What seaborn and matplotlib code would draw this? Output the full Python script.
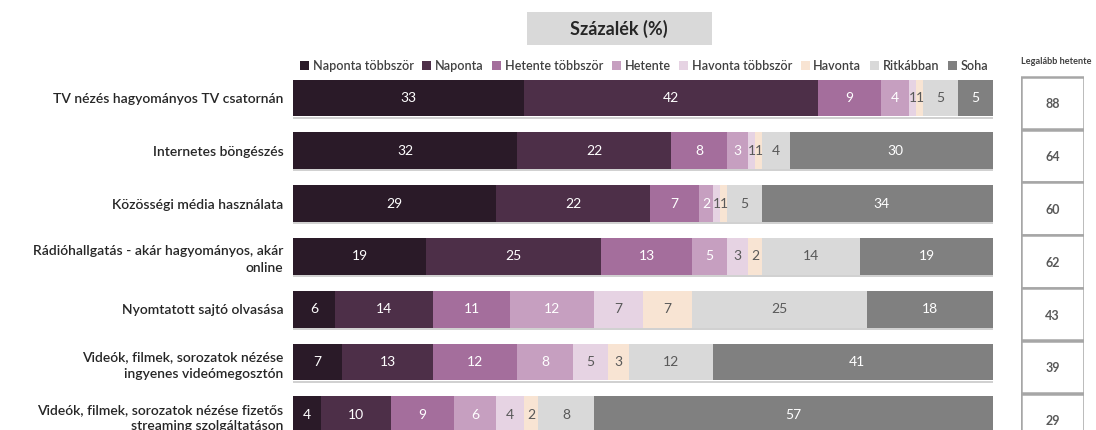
import numpy as np
import pandas as pd
import seaborn as sns
import matplotlib.pyplot as plt
from matplotlib.patches import Rectangle, Patch

# Data
activities = [
    "TV nézés hagyományos TV csatornán",
    "Internetes böngészés",
    "Közösségi média használata",
    "Rádióhallgatás - akár hagyományos, akár\nonline",
    "Nyomtatott sajtó olvasása",
    "Videók, filmek, sorozatok nézése\ningyenes videómegosztón",
    "Videók, filmek, sorozatok nézése fizetős\nstreaming szolgáltatáson",
]
frequencies = ["Naponta többször", "Naponta", "Hetente többször", "Hetente",
               "Havonta többször", "Havonta", "Ritkábban", "Soha"]

naponta_tobbszor = [33, 32, 29, 19, 6, 7, 4]
naponta = [42, 22, 22, 25, 14, 13, 10]
hetente_tobbszor = [9, 8, 7, 13, 11, 12, 9]
hetente = [4, 3, 2, 5, 12, 8, 6]
havonta_tobbszor = [1, 1, 1, 3, 7, 5, 4]
havonta = [1, 1, 1, 2, 7, 3, 2]
ritkabban = [5, 4, 5, 14, 25, 12, 8]
soha = [5, 30, 34, 19, 18, 41, 57]

legalabb_hetente = [88, 64, 60, 62, 43, 39, 29]

colors = ["#2a1a28", "#4d2f48", "#a46e9c", "#c69fc0",
          "#e6d3e3", "#f8e4d3", "#d9d9d9", "#808080"]
label_colors = ["white", "white", "white", "white",
                "#595959", "#595959", "#595959", "white"]

df = pd.DataFrame({
    "Naponta többször": naponta_tobbszor,
    "Naponta": naponta,
    "Hetente többször": hetente_tobbszor,
    "Hetente": hetente,
    "Havonta többször": havonta_tobbszor,
    "Havonta": havonta,
    "Ritkábban": ritkabban,
    "Soha": soha,
}, index=activities)
cum = df.cumsum(axis=1)

sns.set_style("white")
plt.rcParams['font.family'] = ['Lato', 'DejaVu Sans']

fig = plt.figure(figsize=(10.96, 4.30), dpi=100)

# row geometry in pixels -> data coords
row0_px, row_step = 98, 52.8
H = 430
ylim = (H - row0_px) / row_step, (0 - row0_px) / row_step

ax = fig.add_axes([293 / 1096, 0, 700 / 1096, 1])

# stacked bars: draw cumulative totals from the largest down
for i in range(len(frequencies) - 1, -1, -1):
    sns.barplot(x=cum[frequencies[i]].values, y=activities, orient="h",
                color=colors[i], width=0.7, saturation=1, linewidth=0, ax=ax)

# faint shadow under each bar
for j in range(len(activities)):
    ax.plot([0, 100], [j + 0.37, j + 0.37], color="#c8c8c8", lw=1.2,
            solid_capstyle="butt", zorder=0)

# value labels
for j, act in enumerate(activities):
    for i, f in enumerate(frequencies):
        val = df.loc[act, f]
        center = cum.loc[act, f] - val / 2
        ax.text(center, j, str(val), ha="center", va="center",
                fontsize=10, color=label_colors[i])

ax.set_xlim(0, 100)
ax.set_ylim(*ylim)
ax.set_xticks([])
ax.set_xlabel("")
ax.set_ylabel("")
ax.set_yticks(range(len(activities)))
ax.set_yticklabels(activities, fontsize=10, color="#262626",
                   fontweight="semibold", linespacing=1.45)
ax.tick_params(axis="y", length=0, pad=7)
for s in ax.spines.values():
    s.set_visible(False)

# right column: "Legalább hetente"
ax2 = fig.add_axes([1021 / 1096, 0, 63 / 1096, 1])
ax2.set_xlim(0, 1)
ax2.set_ylim(*ylim)
ax2.axis("off")
for j, v in enumerate(legalabb_hetente):
    ax2.add_patch(Rectangle((0, j - 0.40), 1, 0.99, facecolor="white",
                            edgecolor="#a6a6a6", lw=1.8))
    ax2.text(0.5, j + 0.12, str(v), ha="center", va="center",
             fontsize=9, fontweight="bold", color="#595959")
fig.text(1056 / 1096, 1 - 62 / H, "Legalább hetente", ha="center", va="center",
         fontsize=6.6, fontweight="bold", color="#404040")

# title box
fig.patches.append(Rectangle((527 / 1096, 1 - 45 / H), 185 / 1096, 33 / H,
                             transform=fig.transFigure, facecolor="#d9d9d9",
                             edgecolor="none"))
fig.text(619 / 1096, 1 - 29 / H, "Százalék (%)", ha="center", va="center",
         fontsize=13, fontweight="bold", color="#262626")

# legend
handles = [Patch(facecolor=c, edgecolor="none", label=f)
           for c, f in zip(colors, frequencies)]
leg = fig.legend(handles=handles, loc="center", bbox_to_anchor=(644 / 1096, 1 - 66 / H),
                 ncol=8, frameon=False, fontsize=9, handlelength=0.7, handleheight=0.7,
                 handletextpad=0.3, columnspacing=0.7, labelcolor="#404040")
for t in leg.get_texts():
    t.set_fontweight("semibold")

fig.savefig("out.png", dpi=100)
